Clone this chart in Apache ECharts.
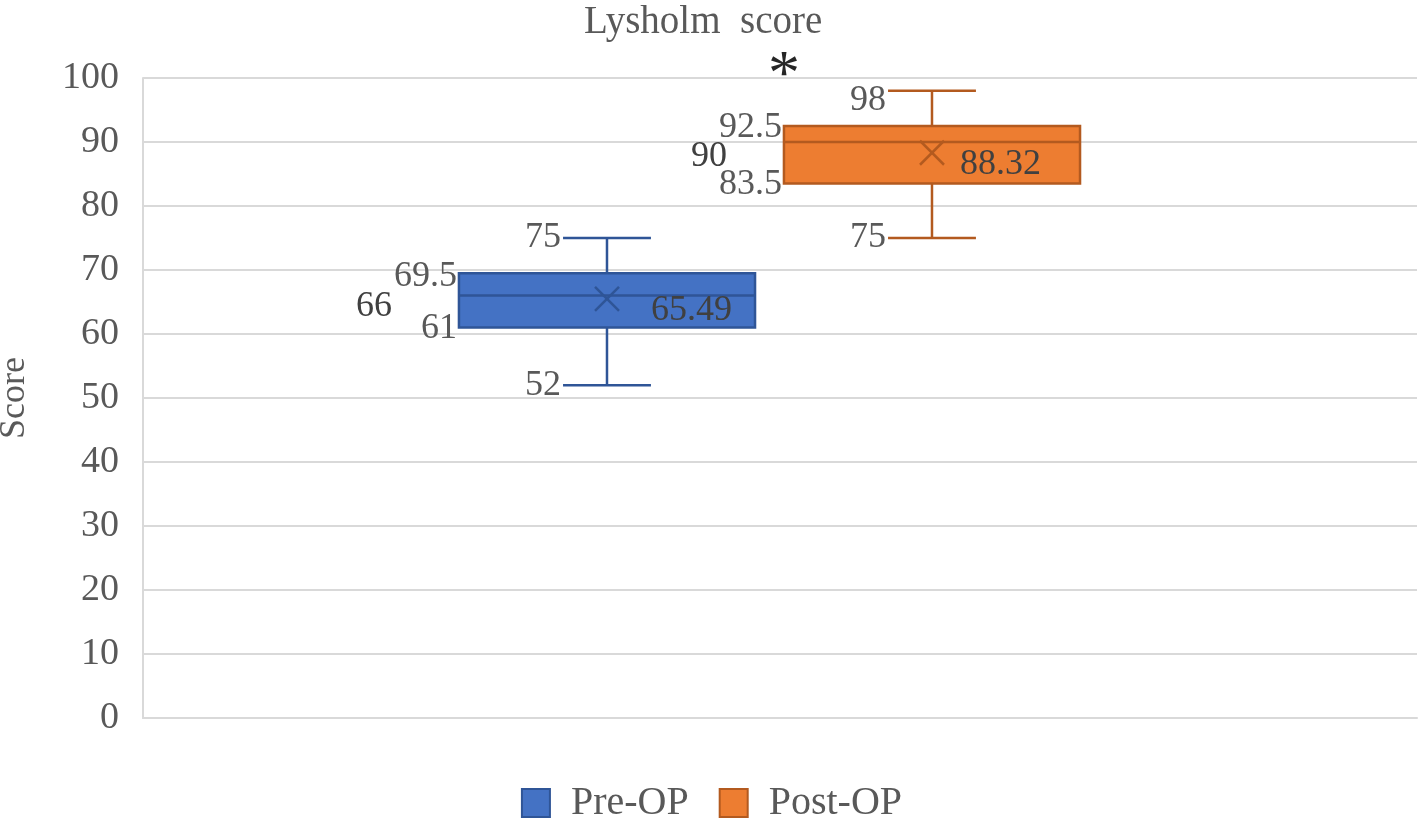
<!DOCTYPE html>
<html>
<head>
<meta charset="utf-8">
<script src="https://cdn.jsdelivr.net/npm/echarts@6/dist/echarts.min.js"></script>
<style>
html,body{margin:0;padding:0;background:#fff;}
#chart{width:1423px;height:820px;}
</style>
</head>
<body>
<div id="chart"></div>
<script>
// ---- data ----
const groups = ['Pre-OP', 'Post-OP'];
const minVals = [52, 75];
const q1Vals = [61, 83.5];
const medianVals = [66, 90];
const q3Vals = [69.5, 92.5];
const maxVals = [75, 98];
const meanVals = [65.49, 88.32];
const yMin = 0, yMax = 100, yStep = 10;
const titleText = 'Lysholm  score';
const yAxisName = 'Score';
const significanceMark = '*';

// ---- styles ----
const FONT = '"Liberation Serif", "DejaVu Serif", serif';
const TEXT = '#595959';
const fills = ['#4472C4', '#ED7D31'];
const borders = ['#2F5597', '#B35A1F'];
const layout = [
  {off: -0.1358, maxDy: 0, medDx: -67, medDy: 11, meanDx: 44, meanDy: 12, q3Dy: 3},
  {off: 0.1193, maxDy: 10, medDx: -57, medDy: 15, meanDx: 28, meanDy: 12, q3Dy: 1.5}
];
const BOX_HALF = 0.1162, CAP_HALF = 0.0345;

function makeRender(g) {
  return function (params, api) {
    const band = api.size([1, 0])[0];
    const cx = api.coord([api.value(0), 0])[0] + layout[g].off * band;
    const yMinP = api.coord([0, api.value(1)])[1];
    const yQ1 = api.coord([0, api.value(2)])[1];
    const yMed = api.coord([0, api.value(3)])[1];
    const yQ3 = api.coord([0, api.value(4)])[1];
    const yMaxP = api.coord([0, api.value(5)])[1];
    const yMean = api.coord([0, api.value(6)])[1];
    const yTop = api.coord([0, yMax])[1];
    const bh = BOX_HALF * band, ch = CAP_HALF * band;
    const L = layout[g];
    const ls = {stroke: borders[g], lineWidth: 2.5};
    const lbl = (t, x, y, align, color) => ({
      type: 'text', z2: 10,
      style: {text: t, x: x, y: y, align: align, verticalAlign: 'middle',
              font: '36px ' + FONT, fill: color || TEXT}
    });
    const children = [
      {type: 'line', shape: {x1: cx, y1: yMaxP, x2: cx, y2: yQ3}, style: ls},
      {type: 'line', shape: {x1: cx, y1: yQ1, x2: cx, y2: yMinP}, style: ls},
      {type: 'line', shape: {x1: cx - ch, y1: yMaxP, x2: cx + ch, y2: yMaxP}, style: ls},
      {type: 'line', shape: {x1: cx - ch, y1: yMinP, x2: cx + ch, y2: yMinP}, style: ls},
      {type: 'rect', shape: {x: cx - bh, y: yQ3, width: 2 * bh, height: yQ1 - yQ3},
       style: {fill: fills[g], stroke: borders[g], lineWidth: 2.5}},
      {type: 'line', shape: {x1: cx - bh, y1: yMed, x2: cx + bh, y2: yMed}, style: ls},
      {type: 'line', shape: {x1: cx - 12, y1: yMean - 12, x2: cx + 12, y2: yMean + 12}, style: ls},
      {type: 'line', shape: {x1: cx - 12, y1: yMean + 12, x2: cx + 12, y2: yMean - 12}, style: ls},
      lbl(String(api.value(5)), cx - ch - 2, yMaxP + L.maxDy, 'right'),
      lbl(String(api.value(1)), cx - ch - 2, yMinP, 'right'),
      lbl(String(api.value(4)), cx - bh - 2, yQ3 + L.q3Dy, 'right'),
      lbl(String(api.value(2)), cx - bh - 2, yQ1 + 1, 'right'),
      lbl(String(api.value(3)), cx - bh + L.medDx, yMed + L.medDy, 'right', '#404040'),
      lbl(api.value(6).toFixed(2), cx + L.meanDx, yMean + L.meanDy, 'left', '#404040')
    ];
    if (g === 1) {
      children.push({type: 'text', z2: 10, style: {text: significanceMark, x: cx - bh, y: yTop - 1,
        align: 'center', verticalAlign: 'middle', font: '64px ' + FONT, fill: '#262626'}});
    }
    return {type: 'group', children: children};
  };
}

const series = groups.map((name, g) => ({
  name: name,
  type: 'custom',
  renderItem: makeRender(g),
  itemStyle: {color: fills[g], borderColor: borders[g], borderWidth: 2},
  encode: {x: 0, y: [1, 2, 3, 4, 5, 6]},
  data: [[0, minVals[g], q1Vals[g], medianVals[g], q3Vals[g], maxVals[g], meanVals[g]]],
  clip: false
}));

const chart = echarts.init(document.getElementById('chart'));
chart.setOption({
  animation: false,
  backgroundColor: '#fff',
  title: {
    text: titleText, left: 579, top: -2,
    textStyle: {fontFamily: FONT, fontSize: 39, fontWeight: 'normal', color: TEXT}
  },
  legend: {
    data: groups, top: 778, left: 'center',
    icon: 'rect', itemWidth: 28, itemHeight: 28, itemGap: 30,
    textStyle: {fontFamily: FONT, fontSize: 40, color: TEXT, padding: [0, 0, 0, 16]}
  },
  grid: {left: 143, right: 6, top: 78, bottom: 102, containLabel: false, outerBoundsMode: 'none'},
  xAxis: {
    type: 'category', data: [''],
    axisLine: {show: true, lineStyle: {color: '#D9D9D9', width: 2}},
    axisTick: {show: false}, axisLabel: {show: false}
  },
  yAxis: {
    type: 'value', min: yMin, max: yMax, interval: yStep,
    name: yAxisName, nameLocation: 'middle', nameGap: 110, nameRotate: 90,
    nameTextStyle: {fontFamily: FONT, fontSize: 36, color: TEXT},
    axisLine: {show: true, lineStyle: {color: '#D9D9D9', width: 2}},
    axisTick: {show: false},
    axisLabel: {fontFamily: FONT, fontSize: 38, color: TEXT, margin: 24},
    splitLine: {lineStyle: {color: '#D9D9D9', width: 2}}
  },
  series: series
});
</script>
</body>
</html>
